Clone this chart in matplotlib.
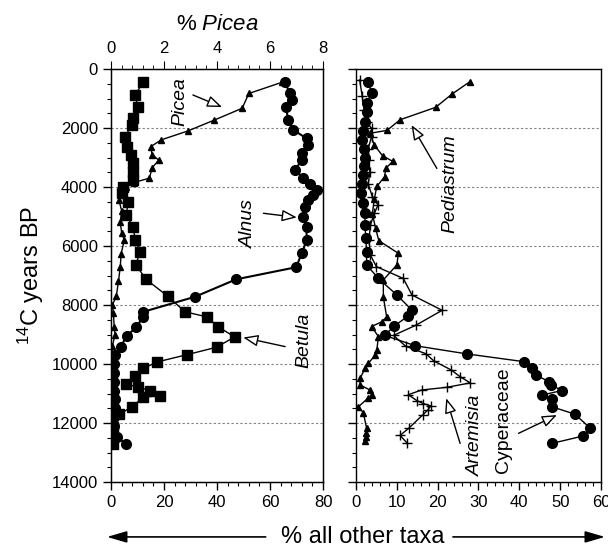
import matplotlib
matplotlib.use('Agg')
import matplotlib.pyplot as plt
from matplotlib.ticker import MultipleLocator

plt.rcParams['font.family'] = ['Liberation Sans', 'DejaVu Sans']
plt.rcParams['mathtext.fontset'] = 'custom'
plt.rcParams['mathtext.rm'] = 'Liberation Sans'
plt.rcParams['mathtext.it'] = 'Liberation Sans:italic'

# ---- left panel data ----
age_picea = [450, 830, 1330, 1730, 2100, 2400, 2630, 2900, 3090, 3350, 3700, 3850,
             4000, 4200, 4450, 4800, 5200, 5550, 5800, 6270, 6700, 7200, 7700, 8000,
             8280, 8730, 9000, 9400, 9700, 10000, 10300, 10600, 10900, 11200, 11500,
             11800, 12100, 12400, 12700]
picea = [6.45, 5.2, 4.95, 3.9, 2.9, 1.9, 1.5, 1.55, 1.8, 1.55, 1.45, 0.85,
         0.55, 0.35, 0.3, 0.4, 0.35, 0.4, 0.5, 0.38, 0.35, 0.28, 0.2, 0.05,
         0.09, 0.12, 0.15, 0.05, 0.05, 0.08, 0.1, 0.1, 0.15, 0.15, 0.1,
         0.05, 0.08, 0.05, 0.1]

age_alnus = [430, 825, 1050, 1300, 1730, 2070, 2350, 2580, 2860, 3085, 3420, 3700,
             3910, 4100, 4270, 4440, 4670, 5000, 5350, 5800, 6250, 6720, 7130, 7720,
             8230, 8400, 8760, 9050, 9410, 9700, 10000, 10300, 10600, 10900, 11200,
             11500, 11800, 12100, 12460, 12710]
alnus = [65.5, 67.5, 68.2, 66.0, 66.9, 68.8, 73.8, 74.2, 72.0, 72.0, 69.4, 72.6,
         75.1, 77.6, 76.4, 74.5, 73.2, 72.6, 73.8, 73.8, 72.0, 69.8, 47.2, 31.7,
         12.2, 12.2, 9.4, 5.9, 3.7, 1.5, 1.2, 1.0, 1.0, 1.2, 1.5,
         1.5, 1.2, 1.0, 2.1, 5.7]

age_betula = [430, 880, 1280, 1670, 1900, 2290, 2630, 2915, 3200, 3480, 3760, 3990,
              4210, 4500, 4950, 5350, 5800, 6200, 6640, 7130, 7700, 8230, 8400, 8730,
              9080, 9430, 9680, 9930, 10150, 10400, 10680, 10780, 10900, 11080, 11120,
              11450, 11700, 12120, 12460, 12700]
betula = [12.2, 9.1, 10.1, 8.4, 7.8, 5.3, 5.9, 7.4, 8.2, 8.4, 8.4, 4.6,
          4.0, 6.5, 5.7, 8.4, 9.1, 10.9, 9.4, 13.2, 21.4, 27.9, 36.1, 40.3,
          46.6, 39.9, 28.8, 17.4, 12.2, 9.0, 5.7, 10.2, 14.7, 18.5, 12.0,
          8.1, 3.0, 0.9, 0.6, 0.9]

# ---- right panel data ----
age_cyper = [430, 825, 1160, 1450, 1800, 2100, 2400, 2700, 3000, 3300, 3600, 3900,
             4200, 4550, 4890, 5290, 5740, 6190, 6640, 7100, 7660, 8170, 8370, 8710,
             9030, 9380, 9660, 9920, 10150, 10370, 10600, 10700, 10900, 11050, 11200,
             11450, 11700, 12180, 12440, 12690]
cyper = [3.0, 3.8, 2.6, 2.6, 2.2, 1.8, 1.5, 2.0, 2.2, 2.0, 1.6, 1.4,
         1.2, 1.6, 2.2, 2.2, 2.4, 2.6, 2.6, 5.5, 10.0, 13.7, 12.8, 9.4,
         7.0, 14.5, 27.3, 41.1, 43.1, 44.0, 47.3, 47.8, 50.4, 45.6, 48.0,
         48.0, 53.6, 57.4, 55.6, 48.0]

age_pedia = [430, 850, 1300, 1720, 2080, 2180, 2580, 2940, 3130, 3370, 3650, 3980,
             4400, 4900, 5400, 5820, 6250, 6640, 7150, 7720, 8400, 8570, 8730, 9070,
             9520, 9700, 9980, 10150, 10490, 10710, 10880, 11050, 11160, 11450, 11650,
             12180, 12330, 12460, 12600]
pedia = [27.9, 23.5, 19.5, 10.8, 7.6, 3.4, 4.5, 6.5, 9.0, 7.3, 7.0, 5.1,
         4.5, 4.0, 4.8, 5.6, 10.4, 10.0, 6.7, 6.7, 7.5, 6.3, 3.8, 5.5,
         5.1, 4.7, 3.0, 2.2, 1.0, 1.0, 3.4, 3.8, 2.9, 0.6, 1.8,
         2.6, 2.5, 2.4, 2.3]

age_artem = [370, 900, 1400, 1800, 2010, 2290, 2700, 3100, 3500, 3900, 4330, 4610,
             4890, 5300, 5800, 6300, 6700, 7100, 7660, 8180, 8690, 9030, 9400, 9650,
             9900, 10200, 10430, 10640, 10790, 10880, 11040, 11240, 11340, 11420, 11560,
             11730, 12180, 12420, 12690]
artem = [0.9, 1.5, 2.0, 2.6, 3.8, 3.8, 3.0, 3.2, 3.4, 3.0, 4.0, 5.4,
         4.5, 3.5, 3.2, 3.5, 5.0, 11.6, 13.7, 21.1, 14.6, 9.2, 12.2, 17.1,
         19.1, 23.3, 25.5, 28.0, 22.2, 16.1, 12.8, 14.9, 16.5, 18.3, 17.6,
         16.3, 12.9, 10.8, 12.6]

grid_ages = [2000, 4000, 6000, 8000, 10000, 12000]

fig = plt.figure(figsize=(6.08, 5.49), dpi=100)
ax1 = fig.add_axes([0.1826, 0.122, 0.3487, 0.7523])
ax2 = fig.add_axes([0.5855, 0.122, 0.403, 0.7523])

open_arrow = dict(arrowstyle='-|>,head_length=0.9,head_width=0.35', fc='white',
                  ec='black', lw=1.0, shrinkA=0, shrinkB=0)

for ax in (ax1, ax2):
    ax.set_ylim(14000, 0)
    for g in grid_ages:
        ax.axhline(g, color='0.5', lw=0.8, ls=(0, (2, 2)), zorder=0)
    ax.yaxis.set_major_locator(MultipleLocator(2000))
    ax.yaxis.set_minor_locator(MultipleLocator(500))
    ax.tick_params(axis='both', which='major', length=6, width=1, labelsize=12)
    ax.tick_params(axis='both', which='minor', length=3, width=0.8)
    for s in ax.spines.values():
        s.set_linewidth(1.0)

# left panel
ax1.plot(alnus, age_alnus, '-o', color='black', ms=7, lw=1.5)
ax1.plot(betula, age_betula, '-s', color='black', ms=6.5, lw=1)
ax1.set_xlim(0, 80)
ax1.xaxis.set_major_locator(MultipleLocator(20))
ax1.xaxis.set_minor_locator(MultipleLocator(4))
ax1.set_ylabel('$^{14}$C years BP', fontsize=17, labelpad=4)

axp = ax1.twiny()
axp.set_ylim(14000, 0)
axp.plot(picea, age_picea, '-^', color='black', ms=5, lw=1)
axp.set_xlim(0, 8)
axp.xaxis.set_major_locator(MultipleLocator(2))
axp.xaxis.set_minor_locator(MultipleLocator(0.4))
axp.tick_params(axis='x', which='major', length=6, labelsize=12)
axp.tick_params(axis='x', which='minor', length=3)
axp.set_xlabel(r'% $\it{Picea}$', fontsize=16, labelpad=8)

ax1.text(26.0, 1110, 'Picea', rotation=90, style='italic', fontsize=14,
         ha='center', va='center')
ax1.annotate('', xy=(41.9, 1290), xytext=(30.9, 880), arrowprops=open_arrow)
ax1.text(51.8, 5230, 'Alnus', rotation=90, style='italic', fontsize=14,
         ha='center', va='center')
ax1.annotate('', xy=(70.1, 5030), xytext=(57.5, 4890), arrowprops=open_arrow)
ax1.text(72.6, 9190, 'Betula', rotation=90, style='italic', fontsize=14,
         ha='center', va='center')
ax1.annotate('', xy=(49.9, 9100), xytext=(65.7, 9410), arrowprops=open_arrow)

# right panel
ax2.plot(cyper, age_cyper, '-o', color='black', ms=7, lw=1)
ax2.plot(pedia, age_pedia, '-^', color='black', ms=5, lw=1)
ax2.plot(artem, age_artem, '-+', color='black', ms=7, mew=1, lw=1)
ax2.set_xlim(0, 60)
ax2.xaxis.set_major_locator(MultipleLocator(10))
ax2.xaxis.set_minor_locator(MultipleLocator(2))
ax2.set_yticklabels([])

ax2.text(23.0, 3880, 'Pediastrum', rotation=90, style='italic', fontsize=14,
         ha='center', va='center')
ax2.annotate('', xy=(13.6, 1900), xytext=(19.8, 3370), arrowprops=open_arrow)
ax2.text(29.2, 12400, 'Artemisia', rotation=90, style='italic', fontsize=14,
         ha='center', va='center')
ax2.annotate('', xy=(22.1, 11160), xytext=(25.5, 12690), arrowprops=open_arrow)
ax2.text(36.1, 11900, 'Cyperaceae', rotation=90, fontsize=14,
         ha='center', va='center')
ax2.annotate('', xy=(49.2, 11730), xytext=(39.8, 12350), arrowprops=open_arrow)

# bottom label with arrows
fig.text(0.596, 0.022, '% all other taxa', fontsize=17, ha='center', va='center')
solid_arrow = dict(arrowstyle='-|>,head_length=1.2,head_width=0.35', fc='black',
                   ec='black', lw=1.2, shrinkA=0, shrinkB=0)
ax1.annotate('', xy=(0.176, 0.022), xytext=(0.437, 0.022),
             xycoords='figure fraction', textcoords='figure fraction',
             arrowprops=solid_arrow, annotation_clip=False)
ax1.annotate('', xy=(0.995, 0.022), xytext=(0.745, 0.022),
             xycoords='figure fraction', textcoords='figure fraction',
             arrowprops=solid_arrow, annotation_clip=False)

fig.savefig('out.png', dpi=100)
